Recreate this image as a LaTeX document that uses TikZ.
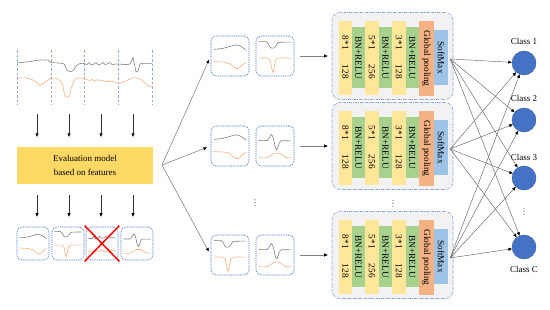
\documentclass[tikz,border=0pt]{standalone}
\usepackage{fontspec}
\setmainfont{Liberation Serif}
\newfontfamily\djv{DejaVu Sans}
\usetikzlibrary{arrows.meta,calc}
\definecolor{evy}{HTML}{FFD966}
\definecolor{bary}{HTML}{FFE699}
\definecolor{barg}{HTML}{A9D18E}
\definecolor{baro}{HTML}{F4B183}
\definecolor{barb}{HTML}{9DC3E6}
\definecolor{sigg}{HTML}{7F7F7F}
\definecolor{sigo}{HTML}{F4B183}
\definecolor{dashb}{HTML}{8FAADC}
\definecolor{boxb}{HTML}{4472C4}
\definecolor{circb}{HTML}{4472C4}
\definecolor{contf}{HTML}{F2F2F2}
\definecolor{contb}{HTML}{7F9BD0}

\newcommand\crvA{%
 \draw[gline] plot[smooth,tension=0.6] coordinates {(0.08,0.34)(0.3,0.32)(0.5,0.27)(0.66,0.23)(0.8,0.27)(0.93,0.36)};
 \draw[oline] plot[smooth,tension=0.6] coordinates {(0.08,0.65)(0.35,0.66)(0.5,0.7)(0.62,0.8)(0.72,0.82)(0.82,0.74)(0.93,0.66)};}
\newcommand\crvB{%
 \draw[gline] plot[smooth,tension=0.4] coordinates {(0.08,0.15)(0.28,0.15)(0.34,0.22)(0.39,0.3)(0.48,0.31)(0.54,0.24)(0.6,0.17)(0.93,0.16)};
 \draw[oline] plot[smooth,tension=0.4] coordinates {(0.08,0.56)(0.32,0.56)(0.38,0.62)(0.42,0.8)(0.45,0.92)(0.49,0.78)(0.53,0.6)(0.6,0.56)(0.93,0.56)};}
\newcommand\crvC{%
 \draw[gline] plot[smooth,tension=0.4] coordinates {(0.08,0.35)(0.2,0.36)(0.25,0.3)(0.3,0.36)(0.4,0.34)(0.45,0.29)(0.5,0.35)(0.6,0.33)(0.65,0.28)(0.7,0.34)(0.8,0.33)(0.93,0.34)};
 \draw[oline] plot[smooth,tension=0.4] coordinates {(0.08,0.76)(0.2,0.75)(0.3,0.71)(0.4,0.75)(0.5,0.71)(0.6,0.76)(0.7,0.73)(0.8,0.71)(0.93,0.73)};}
\newcommand\crvD{%
 \draw[gline] plot[smooth,tension=0.4] coordinates {(0.08,0.37)(0.3,0.37)(0.36,0.3)(0.41,0.22)(0.46,0.3)(0.52,0.55)(0.56,0.6)(0.6,0.5)(0.66,0.38)(0.93,0.38)};
 \draw[oline] plot[smooth,tension=0.5] coordinates {(0.08,0.8)(0.3,0.8)(0.4,0.74)(0.5,0.69)(0.62,0.69)(0.72,0.75)(0.8,0.8)(0.93,0.8)};}
\newcommand\inbox[4]{\begin{scope}[shift={(#1.north west)},x=#2pt,y=-#3pt]#4\end{scope}}

\newcommand\cnnrow[2]{%
 \node[cont] (#1) at (392.5,#2) {};
 \node[bar,fill=bary,minimum width=12.5pt,minimum height=74.5pt] (#1y1) at ($(#1.north west)+(7.5,8.5)$) {};
 \node[bar,fill=barg,minimum width=13.5pt,minimum height=61pt] (#1g1) at ($(#1.north west)+(20,15)$) {};
 \node[bar,fill=bary,minimum width=13.5pt,minimum height=74.5pt] (#1y2) at ($(#1.north west)+(33.5,8.5)$) {};
 \node[bar,fill=barg,minimum width=13.5pt,minimum height=61pt] (#1g2) at ($(#1.north west)+(47,15)$) {};
 \node[bar,fill=bary,minimum width=13.5pt,minimum height=74.5pt] (#1y3) at ($(#1.north west)+(60.5,8.5)$) {};
 \node[bar,fill=barg,minimum width=13pt,minimum height=61pt] (#1g3) at ($(#1.north west)+(74,15)$) {};
 \node[bar,fill=baro,minimum width=15.5pt,minimum height=75.5pt] (#1o) at ($(#1.north west)+(87,8.5)$) {};
 \node[bar,fill=barb,minimum width=14pt,minimum height=54.5pt] (#1b) at ($(#1.north west)+(102.5,18)$) {};
 \node[rtxt] (#1t1a) at ($(#1y1.center)+(0,-15)$) {8*1};
 \node[rtxt] (#1t1b) at ($(#1y1.center)+(0,14)$) {128};
 \node[rtxt] (#1t2a) at ($(#1y2.center)+(0,-15)$) {5*1};
 \node[rtxt] (#1t2b) at ($(#1y2.center)+(0,14)$) {256};
 \node[rtxt] (#1t3a) at ($(#1y3.center)+(0,-15)$) {3*1};
 \node[rtxt] (#1t3b) at ($(#1y3.center)+(0,14)$) {128};
 \node[rtxt] (#1tg1) at (#1g1.center) {BN+RELU};
 \node[rtxt] (#1tg2) at (#1g2.center) {BN+RELU};
 \node[rtxt] (#1tg3) at (#1g3.center) {BN+RELU};
 \node[rtxt] (#1to) at (#1o.center) {Global pooling};
 \node[rtxt] (#1tb) at (#1b.center) {SoftMax};
}

\begin{document}
\begin{tikzpicture}[x=1pt,y=-1pt,
  arr/.style={-{Triangle[length=3.5pt,width=3pt,color=black]}, line width=0.55pt, draw=black!80},
  garr/.style={-{Triangle[length=3.5pt,width=3pt,color=black]}, line width=0.55pt, draw=black!50},
  carr/.style={-{Triangle[length=3.5pt,width=3pt,color=black]}, line width=0.45pt, draw=black!60},
  gline/.style={draw=sigg, line width=0.6pt},
  oline/.style={draw=sigo, line width=0.6pt},
  vdash/.style={draw=dashb, line width=0.5pt, dash pattern=on 2.5pt off 2pt},
  sbox/.style={draw=boxb, line width=0.6pt, dash pattern=on 1pt off 0.8pt, rounded corners=5pt, inner sep=0pt},
  cont/.style={draw=contb, line width=0.6pt, dash pattern=on 2.5pt off 1.2pt on 0.6pt off 1.2pt, fill=contf, rounded corners=8pt, minimum width=121pt, minimum height=87pt, inner sep=0pt},
  bar/.style={anchor=north west, inner sep=0pt, outer sep=0pt, draw=none},
  rtxt/.style={rotate=-90, inner sep=0pt, font=\fontsize{9.3}{10}\selectfont},
  evbox/.style={fill=evy, minimum width=136pt, minimum height=37pt, inner sep=0pt, align=center, font=\fontsize{9}{14}\selectfont},
  cls/.style={circle, fill=circb, draw=circb!80!black, line width=0.4pt, minimum size=24pt, inner sep=0pt},
  lbl/.style={font=\fontsize{9}{10}\selectfont, inner sep=0pt},
  dts/.style={font=\djv\fontsize{8}{8}\selectfont, inner sep=0pt, text=black!80}]
\useasboundingbox (0,0) rectangle (550,309);

% ---- top signal panel
\foreach \x in {17,51,84.5,118,152} \draw[vdash] (\x,50) -- (\x,105);
\draw[gline] plot[smooth,tension=0.4] coordinates {(17,63)(30,61.5)(40,60)(48,60.2)(51,62.5)(58,63)(64,64)(67,70)(70,71.5)(73,71)(76,66)(80,63.5)(84,63.5)(87,64.5)(89,62.5)(91,64.5)(94,64)(96,62.5)(98,64.5)(101,64)(103,62.5)(105,64.5)(108,63.5)(110,62.5)(112,64.5)(116,64)(118,64)(126,64.5)(130,64)};
\draw[gline] (130,64) -- (133,57.5) -- (136,72) -- (138,71) -- (140,64) -- (143,63.3) -- (152,63.3);
\draw[oline] plot[smooth,tension=0.5] coordinates {(17,78)(26,78)(33,80)(40,85)(45,82.5)(50,78.5)(53,78)(58,79)(62,83)(64,92)(66,97)(69,96)(72,86)(75,79)(78,78)(84,78.5)(87,79.5)(90,80.5)(92,79.5)(95,81)(98,79.5)(100,81)(103,80.5)(106,82)(108,80.5)(110,82)(113,81.5)(116,83)(120,83)(126,81)(132,78)(137,78)(142,80)(147,85)(152,87)};

% ---- evaluation box
\node[evbox] (eval) at (85,165.5) {Evaluation model\\based on features};
\foreach \x/\i in {37/1,69/2,101/3,133/4}{
  \coordinate (ta\i) at (\x,114);
  \draw[arr, shorten >=10pt] (ta\i) -- (ta\i |- eval.north);
}

% ---- bottom left boxes
\node[sbox, minimum width=32pt, minimum height=33pt] (b1) at (33,243.5) {};
\node[sbox, minimum width=32pt, minimum height=33pt] (b2) at (68,243.5) {};
\node[sbox, minimum width=32pt, minimum height=33pt] (b3) at (102,243.5) {};
\node[sbox, minimum width=32pt, minimum height=33pt] (b4) at (137,243.5) {};
\inbox{b1}{32}{33}{\crvA}
\inbox{b2}{32}{33}{\crvB}
\inbox{b3}{32}{33}{\crvC}
\inbox{b4}{32}{33}{\crvD}
\foreach \i in {1,2,3,4}
  \draw[arr, shorten <=11pt, shorten >=10pt] (eval.south -| ta\i) -- (b\i.north -| ta\i);
\draw[red, line width=1.5pt] ($(b3.north west)+(-1,-1)$) -- ($(b3.south east)+(1,1)$);
\draw[red, line width=1.5pt] ($(b3.north east)+(1,-1)$) -- ($(b3.south west)+(-1,1)$);

% ---- middle boxes
\foreach \r/\y in {1/56,2/146,3/255}{
  \node[sbox, minimum width=38pt, minimum height=40pt] (m\r1) at (230,\y) {};
  \node[sbox, minimum width=38pt, minimum height=40pt] (m\r2) at (275,\y) {};
}
\inbox{m11}{38}{40}{\crvA}
\inbox{m12}{38}{40}{\crvB}
\inbox{m21}{38}{40}{\crvA}
\inbox{m22}{38}{40}{\crvD}
\inbox{m31}{38}{40}{\crvB}
\inbox{m32}{38}{40}{\crvD}
\coordinate (fan) at (162,165);
\foreach \r in {1,2,3} \draw[garr, shorten >=4pt] (fan) -- (m\r1.west);
\node[dts] (d1) at (255,203) {⋮};

% ---- CNN rows
\cnnrow{c1}{56}
\cnnrow{c2}{146}
\cnnrow{c3}{255}
\foreach \r in {1,2,3} \draw[garr, shorten <=6pt, shorten >=4pt] (m\r2.east) -- (c\r.west);
\node[dts] (d2) at (393,204) {⋮};

% ---- classes
\node[cls] (k1) at (524,63) {};
\node[cls] (k2) at (524,120) {};
\node[cls] (k3) at (524,178) {};
\node[cls] (k4) at (524,247) {};
\node[lbl] (l1) at (524,41) {Class 1};
\node[lbl] (l2) at (524,98) {Class 2};
\node[lbl] (l3) at (524,157) {Class 3};
\node[lbl] (l4) at (524,269) {Class C};
\node[dts] (d3) at (524,212) {⋮};
\foreach \r in {1,2,3} \coordinate (s\r) at ($(c\r b.east)+(2,1.5)$);
\foreach \s in {s1,s2,s3}
  \foreach \k in {k1,k2,k3,k4}
    \draw[carr] (\s) -- (\k);
\end{tikzpicture}
\end{document}
